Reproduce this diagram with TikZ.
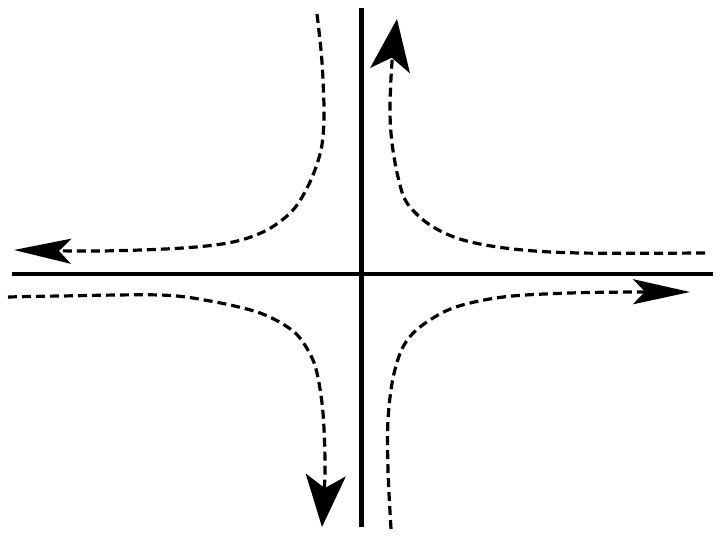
\documentclass[tikz,border=0pt]{standalone}
\usetikzlibrary{arrows.meta}
\tikzset{
  axisline/.style={line width=4.5pt},
  flow/.style={line width=3.2pt, dash pattern=on 9pt off 5pt},
  harrow/.style={-{Stealth[length=57pt, width=25pt, inset=12pt]}},
  varrow/.style={-{Stealth[length=52pt, width=40pt, inset=13pt]}},
}
\begin{document}
\begin{tikzpicture}[x=1pt,y=-1pt]
\useasboundingbox (0,0) rectangle (727,545);
% axes
\coordinate (vtop) at (361.5,8);
\coordinate (vbot) at (361.5,527);
\coordinate (hleft) at (12,273.8);
\coordinate (hright) at (713,273.8);
\draw[axisline] (vtop) -- (vbot);
\draw[axisline] (hleft) -- (hright);
% top-left flow
\draw[flow,harrow] plot[smooth,tension=0.55] coordinates {(317,14) (321,50) (323,80) (324,118) (321,150) (310,182) (293,210) (267,230) (233,242) (183,248) (100,251) (14,250)};
% top-right flow
\draw[flow,varrow] plot[smooth,tension=0.55] coordinates {(705,253) (580,253) (513,249) (463,240) (430,225) (407,203) (398,177) (392,143) (390,110) (392,62) (397,19)};
% bottom-left flow
\draw[flow,varrow] plot[smooth,tension=0.55] coordinates {(8,297) (60,296) (160,295) (210,301) (260,313) (293,331) (309,352) (317,373) (323,413) (325,470) (322,527)};
% bottom-right flow
\draw[flow,harrow] plot[smooth,tension=0.55] coordinates {(391,529) (388,470) (388,420) (393,378) (403,347) (420,327) (453,308) (503,297) (570,293) (637,292) (690,292)};
\end{tikzpicture}
\end{document}
